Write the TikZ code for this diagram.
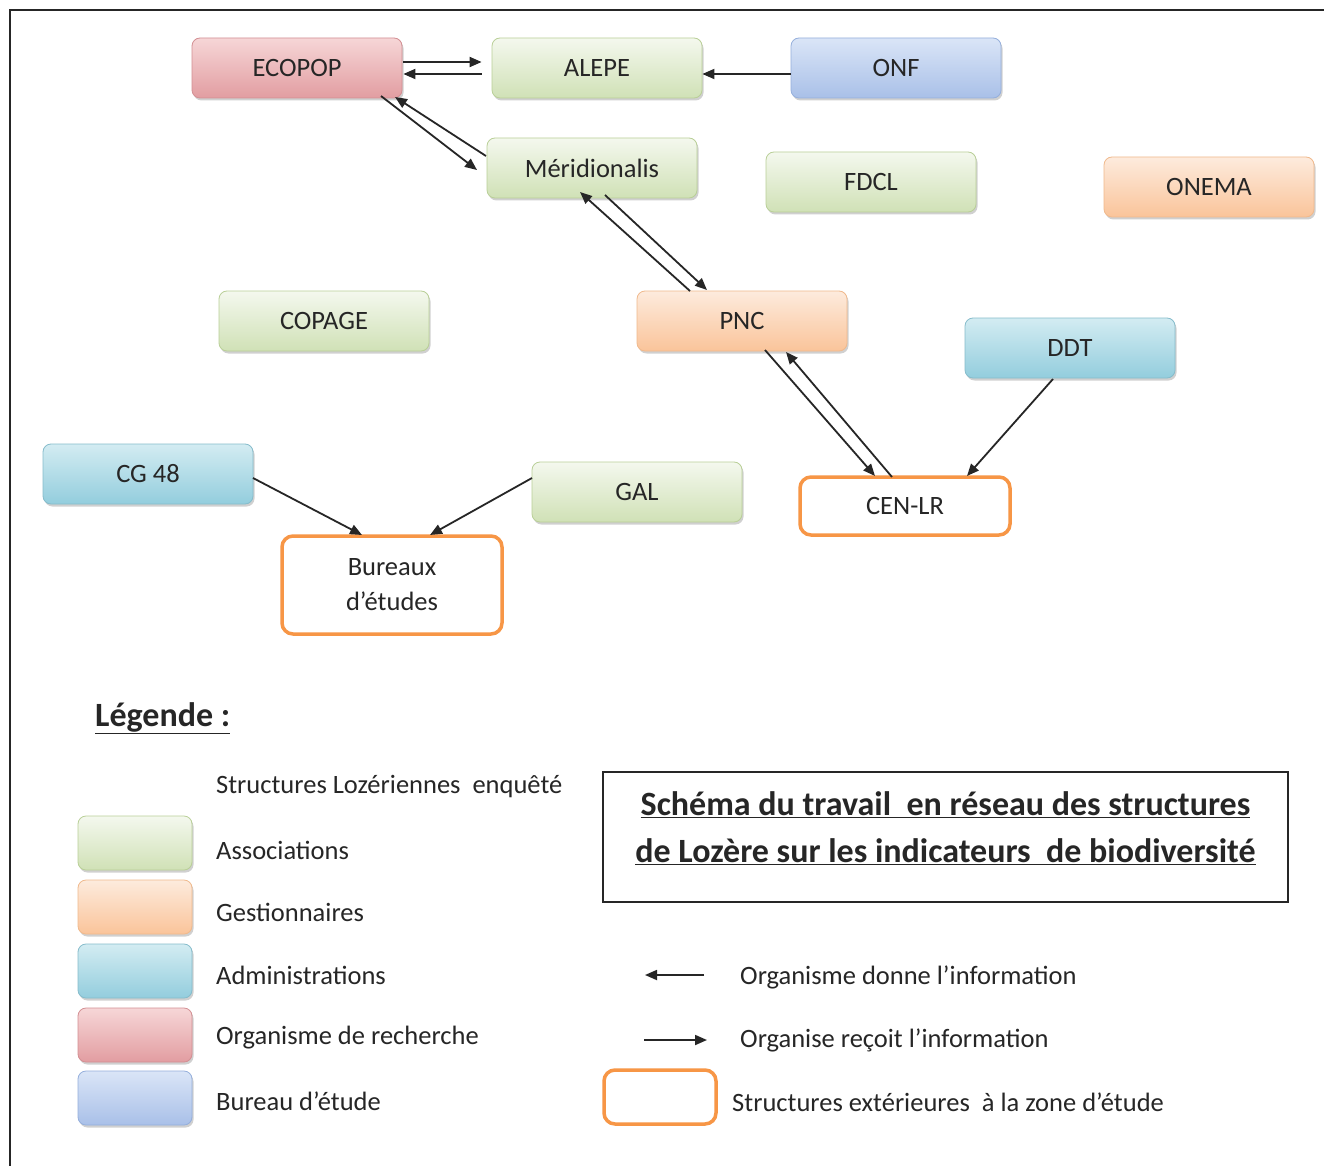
\documentclass[tikz,border=0pt]{standalone}
\usepackage{fontspec}
\setmainfont{Carlito}
\usetikzlibrary{arrows.meta,shadows,calc}
\definecolor{gtop}{HTML}{F4F8EE}\definecolor{gbot}{HTML}{D0E1B6}\definecolor{gdraw}{HTML}{B9CF97}
\definecolor{otop}{HTML}{FDEBDD}\definecolor{obot}{HTML}{FAC49A}\definecolor{odraw}{HTML}{F0B98C}
\definecolor{ctop}{HTML}{D3ECF2}\definecolor{cbot}{HTML}{93CDDD}\definecolor{cdraw}{HTML}{86BCCB}
\definecolor{rtop}{HTML}{F6D6D7}\definecolor{rbot}{HTML}{E29DA1}\definecolor{rdraw}{HTML}{D38F93}
\definecolor{btop}{HTML}{DAE5F7}\definecolor{bbot}{HTML}{A9C0E8}\definecolor{bdraw}{HTML}{95AFDC}
\definecolor{extorange}{HTML}{F79646}
\definecolor{txt}{HTML}{262626}
\newcommand\nodefnt{\fontsize{26.5}{35}\selectfont}
\newcommand\bigfnt{\fontsize{34}{47}\selectfont\bfseries}
\tikzset{
  org/.style={rounded corners=8pt, minimum width=210pt, minimum height=60pt, inner sep=0pt,
    font=\nodefnt, text=txt, line width=0.8pt,
    drop shadow={shadow xshift=1.5pt, shadow yshift=-2.5pt, opacity=0.3, fill=black!60}},
  assoc/.style={org, top color=gtop, bottom color=gbot, draw=gdraw},
  gest/.style={org, top color=otop, bottom color=obot, draw=odraw},
  admin/.style={org, top color=ctop, bottom color=cbot, draw=cdraw},
  rech/.style={org, top color=rtop, bottom color=rbot, draw=rdraw},
  bureau/.style={org, top color=btop, bottom color=bbot, draw=bdraw},
  ext/.style={rounded corners=11pt, minimum width=210pt, minimum height=58pt, inner sep=0pt,
    font=\nodefnt, text=txt, fill=white, draw=extorange, line width=3.5pt, align=center},
  legbox/.style={minimum width=114pt, minimum height=54pt},
  legtext/.style={anchor=west, font=\nodefnt, text=txt, inner sep=0pt},
  flow/.style={line width=1.8pt, txt, -{Triangle[length=12pt,width=10pt]}}
}
\begin{document}
\begin{tikzpicture}[x=1pt,y=-1pt]
\useasboundingbox (0,0) rectangle (1324,1166);
\fill[white] (0,0) rectangle (1324,1166);
\draw[line width=2pt, txt] (10,1166) -- (10,10) -- (1324,10);

% nodes
\node[rech]  (ecopop) at (297,68)  {ECOPOP};
\node[assoc] (alepe)  at (597,68)  {ALEPE};
\node[bureau](onf)    at (896,68)  {ONF};
\node[assoc] (meri)   at (592,168) {Méridionalis};
\node[assoc] (fdcl)   at (871,182) {FDCL};
\node[gest]  (onema)  at (1209,187){ONEMA};
\node[assoc] (copage) at (324,321) {COPAGE};
\node[gest]  (pnc)    at (742,321) {PNC};
\node[admin] (ddt)    at (1070,348){DDT};
\node[admin] (cg)     at (148,474) {CG 48};
\node[assoc] (gal)    at (637,492) {GAL};
\node[ext]   (cen)    at (905,506) {CEN-LR};
\node[ext, minimum width=220pt, minimum height=98pt] (bur) at (392,585) {Bureaux\\d’études};

% connectors
\draw[flow] ($(ecopop.east)+(1,-6)$) -- ($(alepe.west)+(-10,-6)$);
\draw[flow] ($(alepe.west)+(-10,6)$) -- ($(ecopop.east)+(1,6)$);
\draw[flow] ($(onf.west)+(0,6)$) -- ($(alepe.east)+(0,6)$);
\draw[flow] ($(ecopop.center)+(84,28)$) -- ($(meri.center)+(-115,2)$);
\draw[flow] ($(meri.center)+(-106,-12)$) -- ($(ecopop.center)+(98,29)$);
\draw[flow] ($(pnc.center)+(-52,-30)$) -- ($(meri.center)+(-12,24)$);
\draw[flow] ($(meri.center)+(13,27)$) -- ($(pnc.center)+(-35,-31)$);
\draw[flow] ($(pnc.center)+(23,29)$) -- ($(cen.center)+(-30,-30)$);
\draw[flow] ($(cen.center)+(-13,-29)$) -- ($(pnc.center)+(44,31)$);
\draw[flow] ($(ddt.center)+(-17,31)$) -- ($(cen.center)+(62,-30)$);
\draw[flow] ($(cg.center)+(105,4)$) -- ($(bur.center)+(-30,-50)$);
\draw[flow] ($(gal.center)+(-105,-14)$) -- ($(bur.center)+(38,-50)$);

% legend
\node[anchor=west, inner sep=0pt, font=\bigfnt, text=txt] (legtitle) at (95,718) {\underline{Légende :}};
\node[legtext] (l0) at (216,787) {Structures Lozériennes\ \ enquêté};
\node[assoc, legbox]  (b1) at (135,843)  {};
\node[gest, legbox]   (b2) at (135,907)  {};
\node[admin, legbox]  (b3) at (135,971)  {};
\node[rech, legbox]   (b4) at (135,1035) {};
\node[bureau, legbox] (b5) at (135,1098) {};
\node[legtext] (l1) at (216,850)  {Associations};
\node[legtext] (l2) at (216,912)  {Gestionnaires};
\node[legtext] (l3) at (216,975)  {Administrations};
\node[legtext] (l4) at (216,1038) {Organisme de recherche};
\node[legtext] (l5) at (216,1101) {Bureau d’étude};

\node[draw=txt, line width=1.5pt, minimum width=685pt, minimum height=130pt] (titlebox) at (945.5,837) {};
\node[font=\bigfnt, text=txt, align=center, inner sep=0pt] (title) at ($(titlebox.center)+(0,-9)$)
  {\underline{Schéma du travail\ \ en réseau des structures}\\\underline{de Lozère sur les indicateurs\ \ de biodiversité}};

\coordinate (la1) at (704,975); \coordinate (la2) at (645,975);
\coordinate (ra1) at (644,1040); \coordinate (ra2) at (707,1040);
\draw[flow] (la1) -- (la2);
\draw[flow] (ra1) -- (ra2);
\node[legtext] (t1) at (740,977)  {Organisme donne l’information};
\node[legtext] (t2) at (740,1040) {Organise reçoit l’information};
\node[ext, minimum width=112pt, minimum height=54pt] (b6) at (660,1097) {};
\node[legtext] (t3) at (732,1102) {Structures extérieures\ \ à la zone d’étude};
\end{tikzpicture}
\end{document}
